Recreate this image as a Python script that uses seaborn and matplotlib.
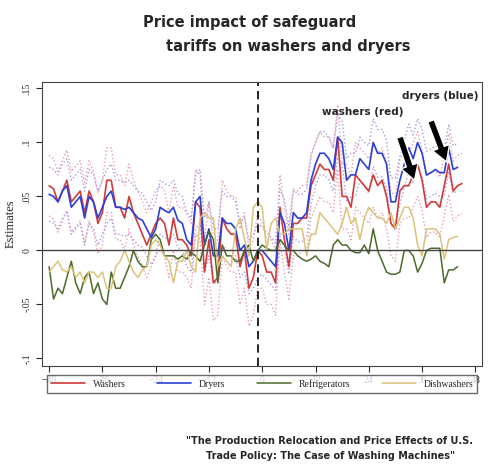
import numpy as np
import pandas as pd
import matplotlib
matplotlib.use("Agg")
import matplotlib.pyplot as plt
import seaborn as sns

# monthly estimates, month -48 onward
washers = [.060, .057, .045, .055, .065, .045, .050, .055, .035, .055, .045, .025, .035, .065, .065, .040,
           .040, .030, .050, .035, .025, .015, .005, .015, .025, .030, .025, .005, .030, .010, .010, .005,
           -.005, .045, .040, -.020, .010, -.030, -.025, .030, .020, .015, .015, -.015, .000, -.035, -.025, .000,
           -.005, -.020, -.020, -.030, .040, .010, -.015, .025, .025, .030, .030, .060, .070, .080, .075, .075,
           .065, .105, .050, .050, .040, .070, .065, .060, .055, .070, .060, .065, .050, .025, .020, .055,
           .060, .060, .070, .080, .065, .040, .045, .045, .040, .060, .080, .055, .060, .062]
dryers = [.052, .050, .045, .055, .060, .040, .045, .050, .030, .050, .045, .030, .040, .050, .055, .040,
          .040, .038, .040, .035, .030, .028, .020, .012, .020, .040, .037, .035, .040, .028, .025, .010,
          .005, .045, .050, .005, .020, -.005, -.005, .030, .025, .025, .020, .000, .005, -.015, -.010, .000,
          .000, -.005, -.010, -.015, .035, .025, .000, .035, .030, .030, .035, .065, .080, .090, .090, .085,
          .075, .105, .100, .065, .070, .070, .085, .080, .075, .100, .090, .090, .080, .045, .045, .065,
          .080, .095, .085, .100, .090, .070, .072, .075, .072, .072, .095, .075, .077]
fridges = [-.015, -.045, -.035, -.040, -.025, -.010, -.030, -.040, -.025, -.020, -.040, -.030, -.045, -.050, -.020, -.035,
           -.035, -.025, -.015, .000, -.010, -.015, -.015, .010, .015, .010, -.005, -.005, -.005, -.008, -.005, -.008,
           -.002, -.005, -.010, .005, .018, .010, -.030, .005, -.005, -.005, -.010, -.010, .000, .005, -.010, .000,
           .005, .002, .000, .000, .010, .005, .000, .000, -.005, -.008, -.010, -.008, -.005, -.010, -.012, -.015,
           .005, .010, .005, .005, .000, -.002, -.002, .005, -.003, .020, .000, -.010, -.020, -.022, -.022, -.020,
           .000, .000, -.005, -.020, -.012, .000, .002, .002, .002, -.030, -.018, -.018, -.015]
dishw = [-.020, -.015, -.010, -.018, -.020, -.015, -.025, -.020, -.030, -.020, -.020, -.025, -.020, -.035, -.035, -.015,
         -.010, .000, -.010, -.020, -.025, -.018, -.015, .005, .010, .005, -.005, -.010, -.030, -.010, -.010, .000,
         -.015, -.020, .030, .035, .030, .030, -.015, -.005, -.010, -.015, .020, .030, .010, -.005, .040, .045,
         .040, .000, .025, .030, .015, .015, .020, .020, .020, .020, -.005, .015, .015, .035, .030, .025,
         .020, .015, .025, .040, .025, .030, .010, .030, .040, .035, .030, .030, .025, .035, .020, .030,
         .040, .040, .030, .005, -.005, .020, .020, .020, .015, -.008, .010, .012, .013]

# confidence half-widths per 12-month block (-48, -36, ..., 36)
washers_ci = [.028, .030, .030, .035, .030, .030, .030, .028]
dryers_ci = [.025, .025, .025, .025, .022, .020, .022, .022]

def months(v):
    return np.arange(-48, -48 + len(v))

def band(v, ci):
    hw = np.repeat(ci, 12)[:len(v)]
    return np.array(v) - hw, np.array(v) + hw

sns.set_style("white")
plt.rcParams['font.family'] = ['Liberation Serif', 'DejaVu Serif']

fig = plt.figure(figsize=(5.01, 4.71), dpi=100)
ax = fig.add_axes([42/501, 1 - 366/471, 440/501, 284/471])

for v, ci, c in [(washers, washers_ci, '#e89bb5'), (dryers, dryers_ci, '#a99be0')]:
    lo, hi = band(v, ci)
    ax.plot(months(v), lo, ':', color=c, lw=1)
    ax.plot(months(v), hi, ':', color=c, lw=1)

sns.lineplot(x=months(washers), y=washers, ax=ax, color='#d23a3a', lw=1.2, label='Washers')
sns.lineplot(x=months(dryers), y=dryers, ax=ax, color='#2b3fd6', lw=1.2, label='Dryers')
sns.lineplot(x=months(fridges), y=fridges, ax=ax, color='#4c6b2a', lw=1.1, label='Refrigerators')
sns.lineplot(x=months(dishw), y=dishw, ax=ax, color='#dcc27a', lw=1.1, label='Dishwashers')

ax.axhline(0, color='#444444', lw=1)
ax.axvline(-1, color='black', lw=1.2, ls=(0, (5, 3)))
ax.set_xlim(-49.6, 49.5)
ax.set_ylim(-0.107, 0.156)
ax.set_xticks(range(-48, 49, 12))
ax.set_yticks([-.1, -.05, 0, .05, .1, .15])
ax.set_yticklabels(['-.1', '-.05', '0', '.05', '.1', '.15'], rotation=90, va='center')
ax.tick_params(axis='both', labelsize=7, length=4, direction='out', left=True, bottom=True)
ax.set_ylabel('Estimates', fontsize=9)
for s in ax.spines.values():
    s.set_color('#444444')

ax.legend(loc='upper left', bbox_to_anchor=(0, -0.065, 1, 0.05), mode='expand', ncol=4,
          fontsize=7, frameon=True, fancybox=False, edgecolor='#444444', handlelength=3.5)

arrow = dict(facecolor='black', width=5, headwidth=13, headlength=11)
ax.annotate('', xy=(34.3, 0.065), xytext=(31, 0.105), arrowprops=arrow)
ax.annotate('', xy=(41.5, 0.082), xytext=(38, 0.12), arrowprops=arrow)
ax.text(13.5, 0.125, 'washers (red)', fontsize=7.5, fontweight='bold', family='DejaVu Sans')
ax.text(31.5, 0.140, 'dryers (blue)', fontsize=7.5, fontweight='bold', family='DejaVu Sans')

fig.text(250/501, 1 - 22/471, 'Price impact of safeguard', ha='center', va='center',
         fontsize=10.5, fontweight='bold', family='DejaVu Sans')
fig.text(288/501, 1 - 46/471, 'tariffs on washers and dryers', ha='center', va='center',
         fontsize=10.5, fontweight='bold', family='DejaVu Sans')
fig.text(330/501, 1 - 441/471, '"The Production Relocation and Price Effects of U.S.',
         ha='center', va='center', fontsize=7, fontweight='bold', family='DejaVu Sans')
fig.text(330/501, 1 - 456/471, 'Trade Policy: The Case of Washing Machines"',
         ha='center', va='center', fontsize=7, fontweight='bold', family='DejaVu Sans')

fig.savefig('out.png', dpi=100)
